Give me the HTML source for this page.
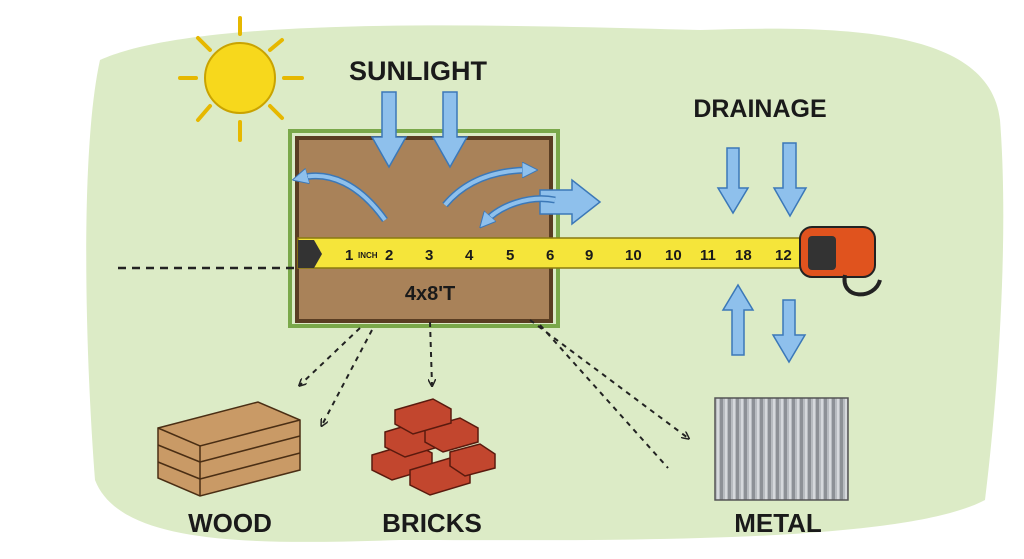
<!DOCTYPE html>
<html><head><meta charset="utf-8"><style>
body{margin:0;width:1024px;height:559px;overflow:hidden;background:#fff}
svg{display:block}
text{font-family:"Liberation Sans",sans-serif;font-weight:bold;fill:#1a1a1a}
</style></head><body>
<svg width="1024" height="559" viewBox="0 0 1024 559">
<defs>
<marker id="ah" markerWidth="8" markerHeight="8" refX="6" refY="4" orient="auto" markerUnits="userSpaceOnUse"><path d="M0,0 L8,4 L0,8" fill="none" stroke="#222" stroke-width="1.5"/></marker>
<marker id="bh" markerWidth="16" markerHeight="16" refX="8" refY="8" orient="auto" markerUnits="userSpaceOnUse"><path d="M0,0 L16,8 L0,16z" fill="#8ec0ec" stroke="#3b78b8" stroke-width="1"/></marker>
<pattern id="corr" width="8" height="10" patternUnits="userSpaceOnUse"><rect width="8" height="10" fill="#b8bcc0"/><rect width="3" height="10" fill="#8d9196"/><rect x="5" width="2" height="10" fill="#d6d9dc"/></pattern>
</defs>
<path d="M100,60 C200,15 500,25 700,30 C850,25 990,30 1000,120 C1010,250 995,420 985,500 C900,545 600,540 400,540 C250,545 120,545 95,480 C85,350 80,150 100,60Z" fill="#dcebc6"/>
<circle cx="240" cy="78" r="35" fill="#f7d81c" stroke="#c9a300" stroke-width="2"/>
<g stroke="#e6b800" stroke-width="4" stroke-linecap="round">
<line x1="240" y1="18" x2="240" y2="34"/><line x1="240" y1="122" x2="240" y2="140"/><line x1="180" y1="78" x2="196" y2="78"/><line x1="284" y1="78" x2="302" y2="78"/>
<line x1="198" y1="38" x2="210" y2="50"/><line x1="270" y1="106" x2="282" y2="118"/><line x1="282" y1="40" x2="270" y2="50"/><line x1="210" y1="106" x2="198" y2="120"/>
</g>
<text x="418" y="80" font-size="27" text-anchor="middle">SUNLIGHT</text>
<text x="760" y="117" font-size="25" text-anchor="middle">DRAINAGE</text>
<rect x="290" y="131" width="268" height="195" fill="none" stroke="#7aa84a" stroke-width="4"/>
<rect x="297" y="138" width="254" height="183" fill="#a98259" stroke="#5a3d22" stroke-width="4"/>
<g fill="#8ec0ec" stroke="#3b78b8" stroke-width="1.5">
<path d="M382,92 h14 v45 h10 l-17,30 l-17,-30 h10z"/>
<path d="M443,92 h14 v45 h10 l-17,30 l-17,-30 h10z"/>
<path d="M727,148 h12 v40 h9 l-15,25 l-15,-25 h9z"/>
<path d="M783,143 h13 v45 h10 l-16,28 l-16,-28 h9z"/>
<path d="M732,355 h12 v-45 h9 l-15,-25 l-15,25 h9z"/>
<path d="M783,300 h12 v35 h10 l-16,27 l-16,-27 h10z"/>
<path d="M540,190 h32 v-10 l28,22 l-28,22 v-10 h-32z"/>
</g>
<g fill="none" stroke="#3b78b8" stroke-width="7">
<path d="M385,220 C360,185 330,170 300,178"/>
<path d="M445,205 C470,175 505,170 530,170"/>
<path d="M555,200 C530,195 500,205 485,222"/>
</g>
<g fill="none" stroke="#8ec0ec" stroke-width="4">
<path d="M385,220 C360,185 330,170 300,178" marker-end="url(#bh)"/>
<path d="M445,205 C470,175 505,170 530,170" marker-end="url(#bh)"/>
<path d="M555,200 C530,195 500,205 485,222" marker-end="url(#bh)"/>
</g>
<line x1="118" y1="268" x2="296" y2="268" stroke="#222" stroke-width="2.5" stroke-dasharray="8,6"/>
<rect x="298" y="238" width="505" height="30" fill="#f5e53a" stroke="#8a7a10" stroke-width="1.5"/>
<g font-size="15" fill="#222" style="font-weight:normal">
<text x="345" y="260">1</text><text x="358" y="258" font-size="8" fill="#c00">INCH</text><text x="385" y="260">2</text><text x="425" y="260">3</text><text x="465" y="260">4</text><text x="506" y="260">5</text><text x="546" y="260">6</text><text x="585" y="260">9</text><text x="625" y="260">10</text><text x="665" y="260">10</text><text x="700" y="260">11</text><text x="735" y="260">18</text><text x="775" y="260">12</text>
</g>
<path d="M298,240 h16 l8,14 l-8,14 h-16z" fill="#333"/>
<rect x="800" y="227" width="75" height="50" rx="12" fill="#e0531e" stroke="#222" stroke-width="2"/>
<rect x="808" y="236" width="28" height="34" rx="4" fill="#333"/>
<path d="M845,275 C840,300 875,300 880,280" fill="none" stroke="#222" stroke-width="4"/>
<text x="430" y="300" font-size="20" text-anchor="middle">4x8'T</text>
<g stroke="#222" stroke-width="2" stroke-dasharray="5,5" fill="none">
<line x1="360" y1="328" x2="300" y2="385" marker-end="url(#ah)"/>
<line x1="372" y1="330" x2="322" y2="425" marker-end="url(#ah)"/>
<line x1="430" y1="322" x2="432" y2="385" marker-end="url(#ah)"/>
<line x1="530" y1="320" x2="688" y2="438" marker-end="url(#ah)"/>
<line x1="540" y1="325" x2="668" y2="468"/>
</g>
<g stroke="#4a2e14" stroke-width="1.5">
<path d="M158,428 L258,402 L300,420 L300,470 L200,496 L158,478Z" fill="#c99a66"/>
<path d="M158,428 L200,446 L300,420" fill="none"/>
<path d="M200,446 L200,496" fill="none"/>
<path d="M200,462 L300,436 M200,479 L300,453 M158,445 L200,462 M158,462 L200,479" fill="none"/>
</g>
<g stroke="#5a1a0e" stroke-width="1.5" fill="#c2462e">
<path d="M372,455 l40,-12 l20,10 v15 l-40,12 l-20,-10z"/>
<path d="M410,470 l40,-12 l20,10 v15 l-40,12 l-20,-10z"/>
<path d="M450,452 l30,-8 l15,10 v14 l-30,8 l-15,-10z"/>
<path d="M385,432 l40,-12 l20,10 v15 l-40,12 l-20,-10z"/>
<path d="M425,428 l35,-10 l18,10 v14 l-35,10 l-18,-10z"/>
<path d="M395,410 l38,-11 l18,10 v14 l-38,11 l-18,-10z"/>
</g>
<rect x="715" y="398" width="133" height="102" fill="url(#corr)" stroke="#555" stroke-width="1.5"/>
<text x="230" y="532" font-size="26" text-anchor="middle">WOOD</text>
<text x="432" y="532" font-size="26" text-anchor="middle">BRICKS</text>
<text x="778" y="532" font-size="26" text-anchor="middle">METAL</text>
</svg>
</body></html>
